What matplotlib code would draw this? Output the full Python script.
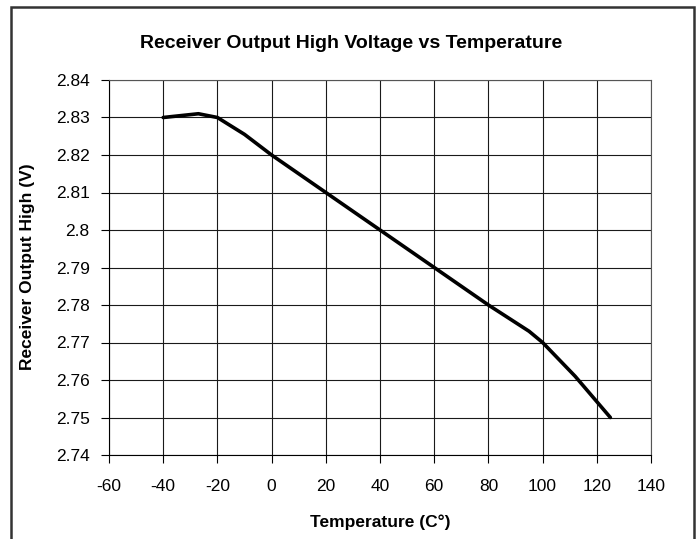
import matplotlib
matplotlib.use("Agg")
import matplotlib.pyplot as plt
from matplotlib.patches import Rectangle

# data
temperature = [-40, -27, -20, -10, 0, 20, 40, 60, 80, 95, 100, 112, 125]
voltage = [2.830, 2.831, 2.830, 2.8255, 2.820, 2.810, 2.800, 2.790, 2.780, 2.773, 2.770, 2.761, 2.750]

x_ticks = [-60, -40, -20, 0, 20, 40, 60, 80, 100, 120, 140]
y_ticks = [2.74, 2.75, 2.76, 2.77, 2.78, 2.79, 2.80, 2.81, 2.82, 2.83, 2.84]
y_tick_labels = ["2.74", "2.75", "2.76", "2.77", "2.78", "2.79", "2.8", "2.81", "2.82", "2.83", "2.84"]

plt.rcParams['font.family'] = ['Liberation Sans', 'DejaVu Sans']

fig = plt.figure(figsize=(6.99, 5.39), dpi=100)
fig.patch.set_facecolor('white')

# outer chart border (bottom edge runs off the image, as in the reference)
fig.patches.append(Rectangle((11 / 699, -0.05), (694 - 11) / 699, 1 - 7 / 539 + 0.05,
                             transform=fig.transFigure, fill=False,
                             edgecolor='#333333', linewidth=1.8))

ax = fig.add_axes([109 / 699, 1 - 455 / 539, (651 - 109) / 699, (455 - 80) / 539])

ax.plot(temperature, voltage, color='black', linewidth=2.6, solid_joinstyle='round',
        solid_capstyle='round')

ax.set_xlim(-60, 140)
ax.set_ylim(2.74, 2.84)
ax.set_xticks(x_ticks)
ax.set_xticklabels([str(t) for t in x_ticks])
ax.set_yticks(y_ticks)
ax.set_yticklabels(y_tick_labels)

ax.grid(True, color='#1a1a1a', linewidth=0.8)
ax.set_axisbelow(True)
ax.tick_params(direction='out', length=6, width=0.8, labelsize=12.5)
ax.tick_params(axis='x', pad=11)
ax.tick_params(axis='y', pad=8)

for side in ['top', 'right']:
    ax.spines[side].set_color('#555555')
    ax.spines[side].set_linewidth(0.8)
for side in ['left', 'bottom']:
    ax.spines[side].set_color('black')
    ax.spines[side].set_linewidth(0.8)

fig.text(351 / 699, 1 - 43 / 539, "Receiver Output High Voltage vs Temperature",
         ha='center', va='center', fontsize=14, fontweight='bold')
fig.text(380 / 699, 1 - 522 / 539, "Temperature (C°)",
         ha='center', va='center', fontsize=12.5, fontweight='bold')
fig.text(28 / 699, 1 - 267 / 539, "Receiver Output High (V)",
         ha='center', va='center', rotation=90, fontsize=12.5, fontweight='bold')

fig.savefig("out.png", dpi=100)
